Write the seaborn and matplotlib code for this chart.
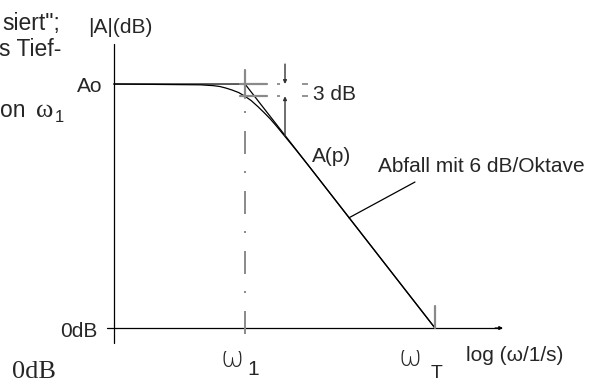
import numpy as np
import pandas as pd
import matplotlib
matplotlib.use("Agg")
import matplotlib.pyplot as plt
import seaborn as sns

# --- values -------------------------------------------------------------
log_w1 = 1.0          # log10 of corner frequency omega_1
log_wT = 4.0          # log10 of transit frequency omega_T
A0_dB = 60.0          # open-loop gain Ao
drop_dB = 3.0         # gain drop at omega_1

# measured magnitude |A(p)| over log(omega)
curve_logw = [-1.07, 0.3, 0.4, 0.5, 0.6, 0.7, 0.8, 0.9, 1.0, 1.1, 1.2,
              1.3, 1.4, 1.5, 1.6, 1.8, 2.0, 2.5, 4.0]
curve_db = [60.0, 59.8, 59.7, 59.6, 59.4, 59.0, 58.5, 57.9, 57.0, 55.9, 54.5,
            53.0, 51.4, 49.6, 47.7, 43.9, 40.0, 30.0, 0.0]

# straight-line asymptotes (flat, then 6 dB/octave)
asym_logw = [-1.07, 1.0, 4.0]
asym_db = [60.0, 60.0, 0.0]

curve = pd.DataFrame({"logw": curve_logw, "dB": curve_db})
asym = pd.DataFrame({"logw": asym_logw, "dB": asym_db})

# --- style --------------------------------------------------------------
sns.set_style("white")
plt.rcParams["font.family"] = ["Liberation Sans", "DejaVu Sans"]
plt.rcParams["lines.scale_dashes"] = False

fig = plt.figure(figsize=(6.07, 3.83), dpi=100)
ax = fig.add_axes([0, 0, 1, 1])

BLACK = "#000000"
GREY = "#8a8a8a"
FS = 15

# asymptote and real curve
sns.lineplot(data=asym, x="logw", y="dB", ax=ax, color=BLACK, lw=0.9,
             estimator=None, sort=False)
sns.lineplot(data=curve, x="logw", y="dB", ax=ax, color=BLACK, lw=0.9,
             estimator=None, sort=False)
ax.set_xlim(-2.868, 6.716)
ax.set_ylim(-13.52, 80.66)
ax.axis("off")

# axes of the diagram
ax.plot([-1.068, -1.068], [-3.69, 69.84], color=BLACK, lw=0.9)
ax.plot([-1.179, 5.05], [0, 0], color=BLACK, lw=0.9)
ax.annotate("", xy=(5.074, 0), xytext=(4.95, 0),
            arrowprops=dict(arrowstyle="-|>", color=BLACK, lw=0.9,
                            mutation_scale=5, shrinkA=0, shrinkB=0))

# crosshair at omega_1
ax.plot([log_w1, log_w1], [63.4, 56.6], color=GREY, lw=1.6)
ax.plot([0.921, 1.347], [A0_dB, A0_dB], color=GREY, lw=1.6)
ax.plot([0.921, 1.347], [A0_dB - drop_dB, A0_dB - drop_dB], color=GREY, lw=1.6)

# dash-dot guide down to the frequency axis (starts with a dot)
ax.plot([log_w1, log_w1], [53.36, -1.48], color=GREY, lw=1.4,
        linestyle=(28.8, (16.56, 12.24, 1.44, 12.96)))

# tick at omega_T
ax.plot([log_wT, log_wT], [5.4, 0], color=GREY, lw=1.6)

# 3 dB dimension
xd = 1.632
ax.annotate("", xy=(xd, A0_dB), xytext=(xd, 64.9),
            arrowprops=dict(arrowstyle="-|>", color="#333333", lw=1.0,
                            mutation_scale=5, shrinkA=0, shrinkB=0))
ax.annotate("", xy=(xd, A0_dB - drop_dB), xytext=(xd, 47.2),
            arrowprops=dict(arrowstyle="-|>", color="#333333", lw=1.0,
                            mutation_scale=5, shrinkA=0, shrinkB=0))
for lvl in (A0_dB, A0_dB - drop_dB):
    ax.plot([1.505, 1.995], [lvl, lvl], color=GREY, lw=1.3,
            linestyle=(0, (2.2, 15.8, 4.3, 50)))

# leader to slope note
ax.plot([3.684, 2.642], [35.9, 27.1], color=BLACK, lw=0.9)

# --- texts --------------------------------------------------------------
ax.text(-1.921, 75.0, 'siert";', ha="right", va="center", fontsize=16.5)
ax.text(-1.905, 68.5, "s Tief-", ha="right", va="center", fontsize=16.5)
ax.text(-2.868, 53.6, "on", ha="left", va="center", fontsize=16.5)
ax.text(-2.160, 53.4, "ω", ha="center", va="center", fontsize=19,
        family=["Liberation Serif", "DejaVu Serif"])
ax.text(-2.010, 51.8, "1", ha="left", va="center", fontsize=12)

ax.text(-0.974, 74.0, "|A|(dB)", ha="center", va="center", fontsize=FS)
ax.text(-1.258, 59.5, "Ao", ha="right", va="center", fontsize=FS)
ax.text(-1.321, -0.86, "0dB", ha="right", va="center", fontsize=FS)
ax.text(2.074, 57.4, "3 dB", ha="left", va="center", fontsize=FS)
ax.text(2.058, 42.2, "A(p)", ha="left", va="center", fontsize=FS)
ax.text(3.1, 39.6, "Abfall mit 6 dB/Oktave", ha="left", va="center",
        fontsize=FS)
ax.text(4.489, -6.76, "log (ω/1/s)", ha="left", va="center", fontsize=FS)

ax.text(0.795, -7.5, "ω", ha="center", va="center", fontsize=20,
        family=["DejaVu Sans"], fontweight="light")
ax.text(1.032, -10.2, "1", ha="left", va="center", fontsize=15)
ax.text(3.605, -7.4, "ω", ha="center", va="center", fontsize=20,
        family=["DejaVu Sans"], fontweight="light")
ax.text(3.937, -11.2, "T", ha="left", va="center", fontsize=14)

ax.text(-2.679, -10.9, "0dB", ha="left", va="center", fontsize=19,
        family=["Liberation Serif", "DejaVu Serif"])

fig.savefig("out.png", dpi=100)
